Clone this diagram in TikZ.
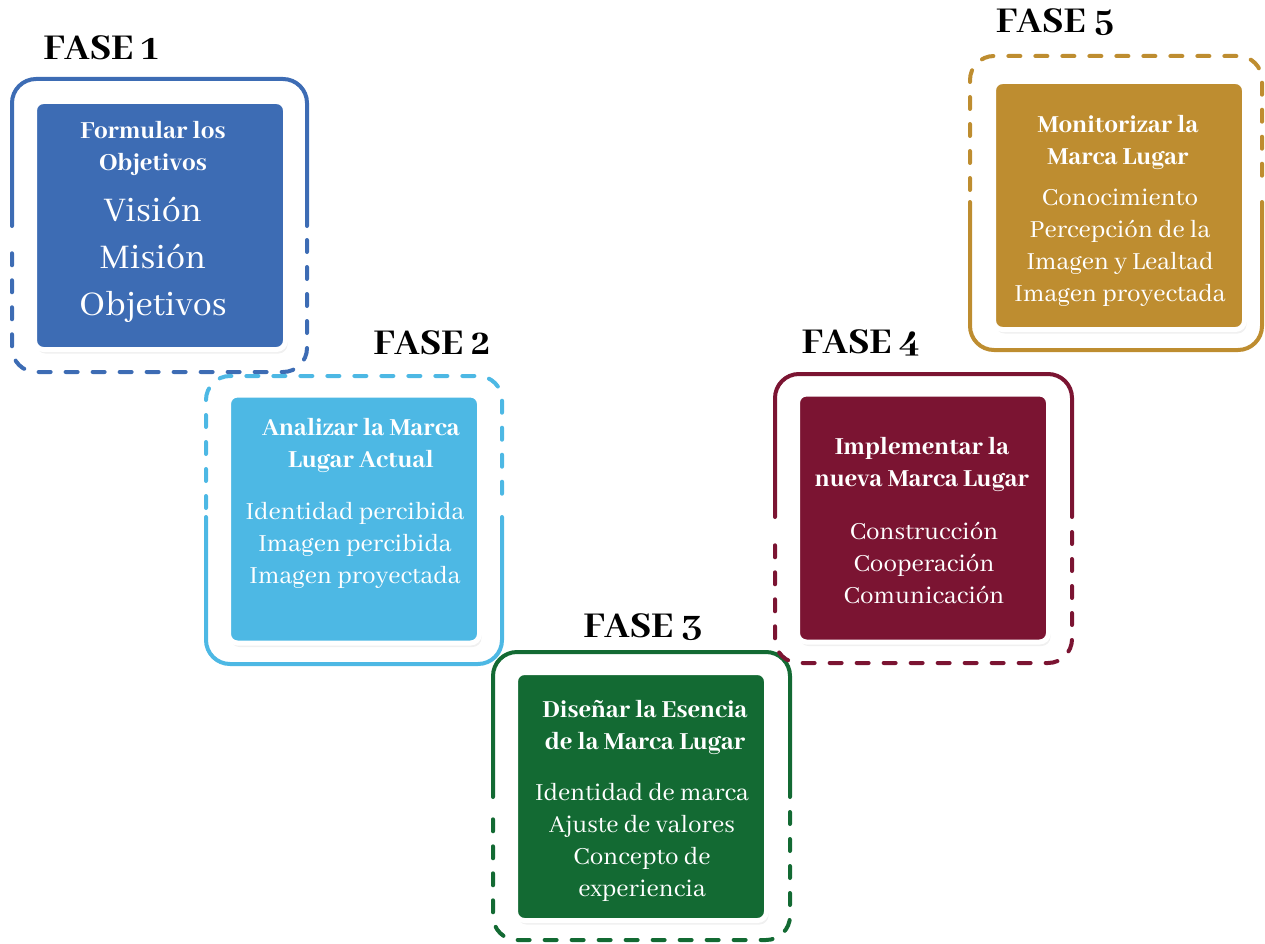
\documentclass[tikz,border=0pt]{standalone}
\usepackage{fontspec}
\setmainfont{Abhaya Libre}[Numbers=OldStyle, BoldFont={Abhaya Libre ExtraBold}]
\usetikzlibrary{shadows}
\definecolor{cA}{RGB}{61,108,180}
\definecolor{cB}{RGB}{77,184,228}
\definecolor{cC}{RGB}{19,106,51}
\definecolor{cD}{RGB}{123,20,50}
\definecolor{cE}{RGB}{190,141,48}
\tikzset{
  frameline/.style={line width=4pt, rounded corners=24pt, line cap=round},
  dashline/.style={frameline, dash pattern=on 12pt off 15pt},
  phasebox/.style={rounded corners=9pt, draw=white, line width=5pt, minimum width=251pt, minimum height=248pt,
    drop shadow={opacity=0.12, shadow xshift=2pt, shadow yshift=-4pt}},
  phaselabel/.style={font=\fontsize{40}{40}\selectfont\bfseries, text=black},
  titletext/.style={font=\fontsize{27}{32}\selectfont\bfseries, text=white, align=center},
  bodytext/.style={font=\fontsize{27}{32}\selectfont, text=white, align=center},
  bigtext/.style={font=\fontsize{38}{47}\selectfont, text=white, align=center}
}
\begin{document}
\begin{tikzpicture}[x=1pt,y=-1pt]
\useasboundingbox (0,0) rectangle (1265,944);
% ---------- Frames
% Fase 1: solid top, dashed bottom
\draw[frameline, cA] (12,226) -- (12,79) -- (307,79) -- (307,226);
\draw[dashline, cA] (307,240) -- (307,372) -- (12,372) -- (12,240);
% Fase 2: dashed top, solid bottom
\draw[dashline, cB] (206,508) -- (206,376) -- (502,376) -- (502,508);
\draw[frameline, cB] (502,517) -- (502,664) -- (206,664) -- (206,517);
% Fase 3: solid top, dashed bottom
\draw[frameline, cC] (493,797) -- (493,652) -- (790,652) -- (790,797);
\draw[dashline, cC] (790,812) -- (790,940) -- (493,940) -- (493,812);
% Fase 4: solid top, dashed bottom
\draw[frameline, cD] (775,517) -- (775,374) -- (1072,374) -- (1072,517);
\draw[dashline, cD] (1072,532) -- (1072,663) -- (775,663) -- (775,532);
% Fase 5: dashed top, solid bottom
\draw[dashline, cE] (970,190) -- (970,56) -- (1262,56) -- (1262,190);
\draw[frameline, cE] (1262,202) -- (1262,350) -- (970,350) -- (970,202);
% ---------- Boxes
\node[phasebox, fill=cA] (b1) at (160,225.5) {};
\node[phasebox, fill=cB] (b2) at (354,519) {};
\node[phasebox, fill=cC] (b3) at (641,796.5) {};
\node[phasebox, fill=cD] (b4) at (923,518) {};
\node[phasebox, fill=cE] (b5) at (1119,205.5) {};
% ---------- Labels
\node[phaselabel] (l1) at (101,48) {FASE 1};
\node[phaselabel] (l2) at (432,343) {FASE 2};
\node[phaselabel] (l3) at (643,627) {FASE 3};
\node[phaselabel] (l4) at (861,343) {FASE 4};
\node[phaselabel] (l5) at (1055,22) {FASE 5};
% ---------- Texts
\node[titletext] (t1) at (153,149) {Formular los\\Objetivos};
\node[bigtext] (d1) at (153,260) {Visión\\Misión\\Objetivos};
\node[titletext] (t2) at (361,445) {Analizar la Marca\\Lugar Actual};
\node[bodytext] (d2) at (355,545) {Identidad percibida\\Imagen percibida\\Imagen proyectada};
\node[titletext] (t3) at (645,727) {Diseñar la Esencia\\de la Marca Lugar};
\node[bodytext] (d3) at (642,842.5) {Identidad de marca\\Ajuste de valores\\Concepto de\\experiencia};
\node[titletext] (t4) at (922,464.5) {Implementar la\\nueva Marca Lugar};
\node[bodytext] (d4) at (924,563) {Construcción\\Cooperación\\Comunicación};
\node[titletext] (t5) at (1118,143) {Monitorizar la\\Marca Lugar};
\node[bodytext] (d5) at (1120,247.5) {Conocimiento\\Percepción de la\\Imagen y Lealtad\\Imagen proyectada};
\end{tikzpicture}
\end{document}
